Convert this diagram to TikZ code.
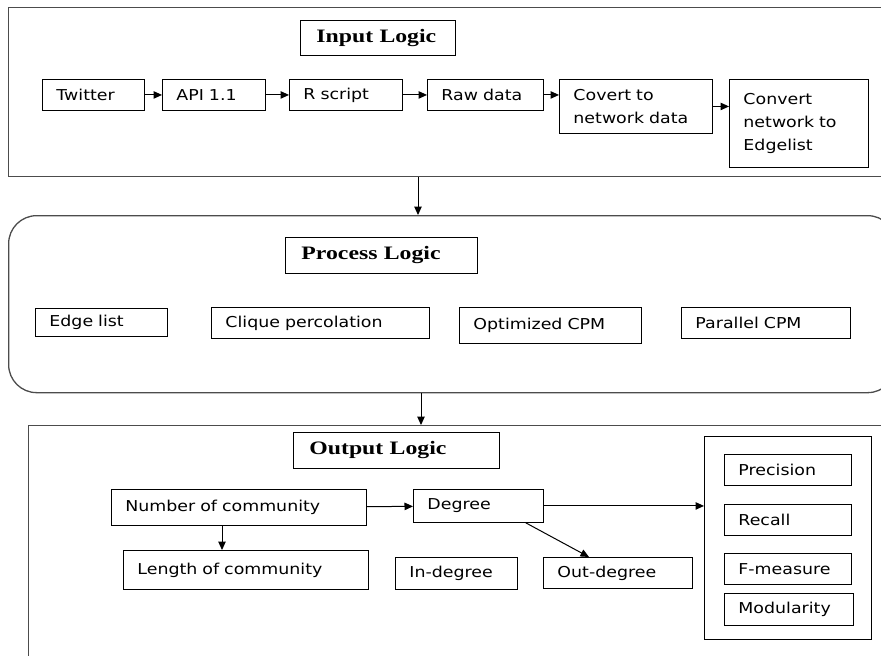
\documentclass[tikz,border=0pt]{standalone}
\usepackage{fontspec}
\newfontfamily\boxfont[FakeStretch=1.16]{DejaVu Sans}
\newfontfamily\titlefont[FakeStretch=1.25]{Liberation Serif}
\usetikzlibrary{arrows.meta}
\tikzset{
  box/.style={draw, line width=0.9pt, anchor=north west, inner xsep=14pt, inner ysep=0pt,
    align=left, font=\boxfont\fontsize{15}{23}\selectfont},
  titlebox/.style={draw, line width=0.9pt, anchor=north west, inner xsep=16pt, inner ysep=0pt,
    align=left, font=\titlefont\bfseries\fontsize{19}{22}\selectfont},
  frame/.style={draw=black!70, line width=1.3pt, anchor=north west, inner sep=0pt},
  arr/.style={-{Triangle[length=8.5pt,width=7.5pt]}, line width=1pt}
}
\begin{document}
\begin{tikzpicture}[x=1pt,y=-1pt]
  \useasboundingbox (0,0) rectangle (881,656);
  \clip (0,0) rectangle (881,656);
  % frames
  \node[frame, minimum width=887pt, minimum height=169pt] (input) at (8,7) {};
  \node[frame, rounded corners=28pt, minimum width=887pt, minimum height=177pt] (process) at (8,215) {};
  \node[frame, minimum width=870pt, minimum height=250pt] (output) at (28,425) {};
  % input logic
  \node[titlebox, text width=123pt, minimum height=35pt] (intitle) at (300,20) {Input Logic};
  \node[box, text width=74pt, minimum height=31pt] (twitter) at (42,79) {Twitter};
  \node[box, text width=75pt, minimum height=31pt] (api) at (162,79) {API 1.1};
  \node[box, text width=85pt, minimum height=31pt] (rscript) at (289,79) {R script};
  \node[box, text width=88pt, minimum height=31pt] (rawdata) at (427,79) {Raw data};
  \node[box, text width=125pt, minimum height=54pt] (covert) at (559,79) {Covert to\\network data};
  \node[box, text width=111pt, minimum height=88pt] (convert) at (729,79) {Convert\\network to\\Edgelist};
  \draw[arr] (twitter) -- (api);
  \draw[arr] (api) -- (rscript);
  \draw[arr] (rscript) -- (rawdata);
  \draw[arr] (rawdata.east) -- (covert.west |- rawdata.east);
  \draw[arr] (covert.east) -- (convert.west |- covert.east);
  % process logic
  \coordinate (inX) at (418,0);
  \draw[arr] (inX |- input.south) -- (inX |- process.north);
  \node[titlebox, text width=160pt, minimum height=36pt] (proctitle) at (285,237) {Process Logic};
  \node[box, text width=104pt, minimum height=28pt] (edgelist) at (35,308) {Edge list};
  \node[box, text width=190pt, minimum height=31pt] (clique) at (211,307) {Clique percolation};
  \node[box, text width=154pt, minimum height=36pt] (optcpm) at (459,307) {Optimized CPM};
  \node[box, text width=141pt, minimum height=31pt] (parcpm) at (681,307) {Parallel CPM};
  % output logic
  \coordinate (outX) at (421,0);
  \draw[arr] (outX |- process.south) -- (outX |- output.north);
  \node[titlebox, text width=174pt, minimum height=36pt] (outtitle) at (293,432) {Output Logic};
  \node[box, text width=227pt, minimum height=36pt] (numcom) at (111,489) {Number of community};
  \node[box, text width=102pt, minimum height=33pt] (degree) at (413,489) {Degree};
  \node[box, text width=217pt, minimum height=39pt] (lencom) at (123,550) {Length of community};
  \node[box, text width=94pt, minimum height=32pt] (indeg) at (395,557) {In-degree};
  \node[box, text width=121pt, minimum height=31pt] (outdeg) at (543,557) {Out-degree};
  \node[draw, line width=0.9pt, anchor=north west, inner sep=0pt,
    minimum width=167pt, minimum height=203pt] (measures) at (704,436) {};
  \node[box, text width=99pt, minimum height=31pt] (precision) at (724,454) {Precision};
  \node[box, text width=99pt, minimum height=31pt] (recall) at (724,504) {Recall};
  \node[box, text width=99pt, minimum height=31pt] (fmeasure) at (724,553) {F-measure};
  \node[box, text width=101pt, minimum height=32pt] (modularity) at (724,593) {Modularity};
  \coordinate (ncX) at (222,0);
  \draw[arr] (numcom) -- (degree);
  \draw[arr] (ncX |- numcom.south) -- (ncX |- lencom.north);
  \draw[arr] (degree.east) -- (measures.west |- degree.east);
  \draw[arr] ([xshift=-18pt]degree.south east) -- ([xshift=46pt]outdeg.north west);
\end{tikzpicture}
\end{document}
